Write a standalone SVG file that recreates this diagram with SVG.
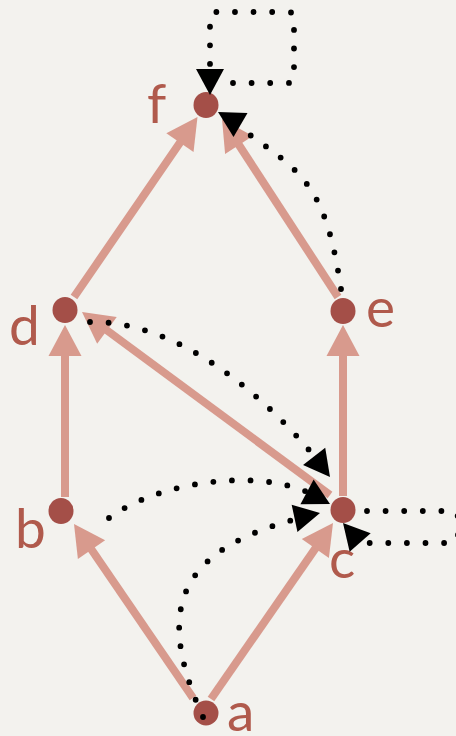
<svg xmlns="http://www.w3.org/2000/svg" xmlns:xlink="http://www.w3.org/1999/xlink" width="456" height="736" viewBox="0 0 456 736">
<style>
.node{fill:#a44f48}
.lbl{font-family:Lato,"Open Sans","Liberation Sans",sans-serif;font-size:55px;fill:#b05a4c}
.sal{stroke:#d89a8d;stroke-width:8;fill:none}
.dot{stroke:#000;stroke-width:5.8;fill:none;stroke-linecap:round;stroke-dasharray:0 18.6}
</style>
<defs>
<polygon id="sa" points="0,0 -31,-16.5 -31,16.5" fill="#d89a8d"/>
<polygon id="ba" points="0,0 -26,-14 -26,14" fill="#000"/>
</defs>
<rect width="456" height="736" fill="#f3f2ee"/>
<g id="node-f"><ellipse class="node" cx="206" cy="105" rx="12.5" ry="13"/><text class="lbl" x="147" y="123">f</text></g>
<g id="node-d"><ellipse class="node" cx="65" cy="310" rx="12.5" ry="13"/><text class="lbl" x="9" y="345">d</text></g>
<g id="node-e"><ellipse class="node" cx="343" cy="311" rx="12.5" ry="13"/><text class="lbl" x="366" y="327">e</text></g>
<g id="node-b"><ellipse class="node" cx="61" cy="511" rx="12.5" ry="13"/><text class="lbl" x="15" y="548">b</text></g>
<g id="node-c"><ellipse class="node" cx="343" cy="510" rx="12.5" ry="13"/><text class="lbl" x="329" y="578">c</text></g>
<g id="node-a"><ellipse class="node" cx="206" cy="713" rx="12.5" ry="12.5"/><text class="lbl" x="227" y="731">a</text></g>
<g id="connectors">
<line class="sal" x1="74" y1="297" x2="182.8" y2="138.4"/><use xlink:href="#sa" transform="translate(197.5,117) rotate(-55.5)"/>
<line class="sal" x1="65" y1="497" x2="65" y2="351"/><use xlink:href="#sa" transform="translate(65,325) rotate(-90)"/>
<line class="sal" x1="193" y1="698" x2="88.7" y2="545.5"/><use xlink:href="#sa" transform="translate(74,524) rotate(235.6)"/>
<line class="sal" x1="211" y1="699" x2="318.2" y2="544.4"/><use xlink:href="#sa" transform="translate(333,523) rotate(-55.3)"/>
<line class="sal" x1="330" y1="495" x2="102.9" y2="327.4"/><use xlink:href="#sa" transform="translate(82,312) rotate(216.4)"/>
<line class="sal" x1="343" y1="496" x2="343" y2="351"/><use xlink:href="#sa" transform="translate(343,325) rotate(-90)"/>
<line class="sal" x1="338" y1="297" x2="236.2" y2="140.8"/><use xlink:href="#sa" transform="translate(222,119) rotate(236.9)"/>

<path class="dot" d="M233 83 H288 Q294 83 294 77 V18 Q294 12 288 12 H216 Q210 12 210 18 V90"/><use xlink:href="#ba" transform="translate(210,95) rotate(90)"/>
<path class="dot" d="M341 289 C324 175 298.6 171.2 225 117"/><use xlink:href="#ba" transform="translate(218,112) rotate(210)"/>
<path class="dot" d="M90 322 C200 320 300 437 322 466"/><use xlink:href="#ba" transform="translate(330,477) rotate(52.4)"/>
<path class="dot" d="M109 518 C160 480 270 465 322 500"/><use xlink:href="#ba" transform="translate(330,504) rotate(28)"/>
<path class="dot" d="M203 717 C150 600 185 545 312 515"/><use xlink:href="#ba" transform="translate(320,513) rotate(-12)"/>
<path class="dot" d="M367 511 H450 Q458 511 458 519 V535 Q458 543 450 543 H362"/><use xlink:href="#ba" transform="translate(343,523) rotate(228.7)"/>
</g>
</svg>
